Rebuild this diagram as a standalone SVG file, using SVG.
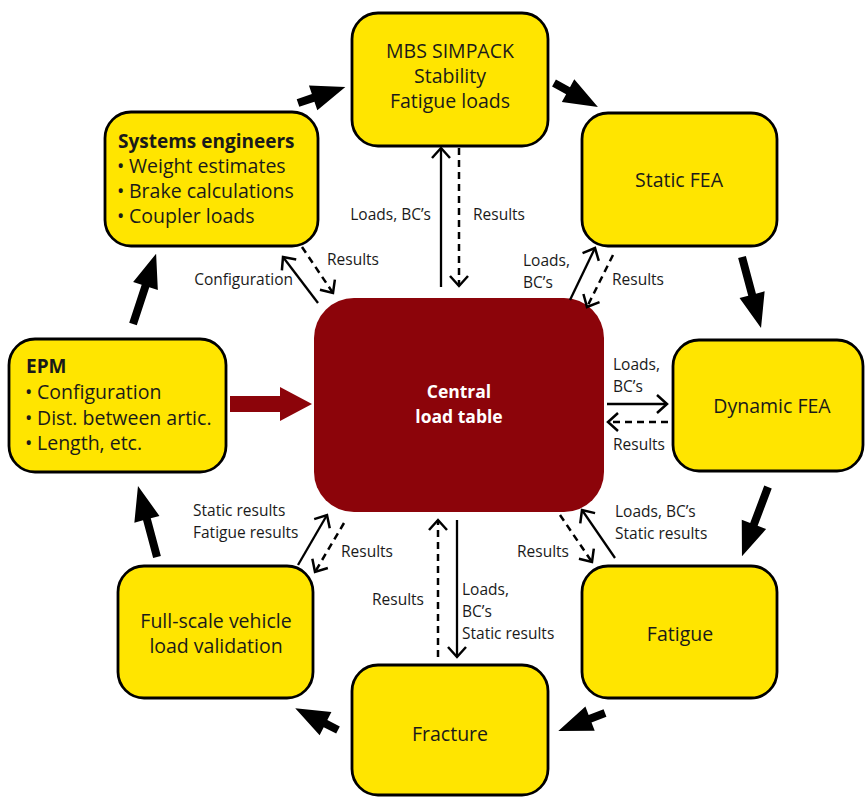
<svg xmlns="http://www.w3.org/2000/svg" width="865" height="797" viewBox="0 0 865 797">
<style>
.node{fill:#FFE500;stroke:#000;stroke-width:2.8}
.t{font-family:"Open Sans","Liberation Sans",sans-serif;font-size:19.5px;fill:#1a1a1a}
.tc{text-anchor:middle}
.b{font-weight:bold}
.lbl{font-family:"Open Sans","Liberation Sans",sans-serif;font-size:15.5px;fill:#1a1a1a}
.ln{fill:none;stroke:#000;stroke-width:2.3;marker-end:url(#chev)}
.dash{stroke-dasharray:7 5;stroke-width:2.5}
.blk{fill:#000}
.ct{font-family:"Open Sans","Liberation Sans",sans-serif;font-size:17.5px;font-weight:bold;fill:#fff;text-anchor:middle}
</style>
<defs>
<marker id="chev" markerUnits="userSpaceOnUse" markerWidth="30" markerHeight="30" viewBox="-15 -15 30 30" refX="0" refY="0" orient="auto" overflow="visible">
<path d="M-10,-9 L0,0 L-10,9" fill="none" stroke="#000" stroke-width="2.5" stroke-dasharray="none"/>
</marker>
</defs>
<rect width="865" height="797" fill="#fff"/>

<g id="central">
<rect x="314" y="298" width="290" height="214" rx="40" fill="#8C040A"/>
<text class="ct" x="459" y="398">Central</text>
<text class="ct" x="459" y="423">load table</text>
</g>

<g id="systems">
<rect class="node" x="105" y="112" width="213" height="134" rx="26"/>
<text class="t b" x="118" y="148" style="font-size:19px">Systems engineers</text>
<text class="t" x="117" y="173">•</text><text class="t" x="129" y="173">Weight estimates</text>
<text class="t" x="117" y="198">•</text><text class="t" x="129" y="198">Brake calculations</text>
<text class="t" x="117" y="223">•</text><text class="t" x="129" y="223">Coupler loads</text>
</g>

<g id="mbs">
<rect class="node" x="352" y="13" width="196" height="133" rx="26"/>
<text class="t tc" x="450" y="58">MBS SIMPACK</text>
<text class="t tc" x="450" y="83">Stability</text>
<text class="t tc" x="450" y="108">Fatigue loads</text>
</g>

<g id="static">
<rect class="node" x="582" y="113" width="195" height="133" rx="26"/>
<text class="t tc" x="679" y="187">Static FEA</text>
</g>

<g id="dynamic">
<rect class="node" x="673" y="340" width="190" height="131" rx="26"/>
<text class="t tc" x="772" y="413">Dynamic FEA</text>
</g>

<g id="fatigue">
<rect class="node" x="582" y="566" width="195" height="132" rx="26"/>
<text class="t tc" x="680" y="641">Fatigue</text>
</g>

<g id="fracture">
<rect class="node" x="352" y="665" width="196" height="130" rx="26"/>
<text class="t tc" x="450" y="741">Fracture</text>
</g>

<g id="fullscale">
<rect class="node" x="118" y="566" width="195" height="132" rx="26"/>
<text class="t tc" x="216" y="628">Full-scale vehicle</text>
<text class="t tc" x="216" y="653">load validation</text>
</g>

<g id="epm">
<rect class="node" x="9" y="339" width="217" height="133" rx="26"/>
<text class="t b" x="26" y="373" style="font-size:19px">EPM</text>
<text class="t" x="25" y="399">•</text><text class="t" x="37" y="399">Configuration</text>
<text class="t" x="25" y="425">•</text><text class="t" x="37" y="425">Dist. between artic.</text>
<text class="t" x="25" y="450">•</text><text class="t" x="37" y="450">Length, etc.</text>
</g>

<g id="connectors">
<path class="blk" transform="translate(298,103) rotate(-18.8)" d="M0,-4 H16 V-13 L50,0 L16,13 V4 H0Z"/>
<path class="blk" transform="translate(554,83) rotate(28.6)" d="M0,-4 H16 V-13 L50,0 L16,13 V4 H0Z"/>
<path class="blk" transform="translate(742,257) rotate(75)" d="M0,-4 H39 V-13 L73.5,0 L39,13 V4 H0Z"/>
<path class="blk" transform="translate(768,487) rotate(110.6)" d="M0,-4 H40 V-13 L74,0 L40,13 V4 H0Z"/>
<path class="blk" transform="translate(605,713) rotate(159)" d="M0,-4 H16 V-13 L50,0 L16,13 V4 H0Z"/>
<path class="blk" transform="translate(338,730) rotate(207)" d="M0,-4 H14 V-13 L48,0 L14,13 V4 H0Z"/>
<path class="blk" transform="translate(157,557) rotate(-105)" d="M0,-4 H39 V-13 L73.5,0 L39,13 V4 H0Z"/>
<path class="blk" transform="translate(133,324) rotate(-71.8)" d="M0,-4 H40 V-13 L74,0 L40,13 V4 H0Z"/>
<path fill="#8C040A" d="M230,396 H280 V387 L312,404 L280,421 V412 H230Z"/>

<line class="ln" x1="441" y1="287" x2="441" y2="148"/>
<line class="ln dash" x1="459" y1="148" x2="459" y2="286"/>
<text class="lbl" x="431" y="220" text-anchor="end">Loads, BC’s</text>
<text class="lbl" x="473" y="220">Results</text>

<line class="ln" x1="318" y1="303" x2="283" y2="257"/>
<line class="ln dash" x1="302" y1="247" x2="333" y2="293"/>
<text class="lbl" x="293" y="285" text-anchor="end">Configuration</text>
<text class="lbl" x="327" y="265">Results</text>

<line class="ln" x1="570" y1="300" x2="595" y2="248"/>
<line class="ln dash" x1="613" y1="255" x2="587" y2="307"/>
<text class="lbl" x="523" y="266">Loads,</text>
<text class="lbl" x="523" y="288">BC’s</text>
<text class="lbl" x="612" y="285">Results</text>

<line class="ln" x1="607" y1="404" x2="667" y2="404"/>
<line class="ln dash" x1="668" y1="422" x2="608" y2="422"/>
<text class="lbl" x="613" y="370">Loads,</text>
<text class="lbl" x="613" y="392">BC’s</text>
<text class="lbl" x="613" y="450">Results</text>

<line class="ln dash" x1="560" y1="515" x2="592" y2="562"/>
<line class="ln" x1="615" y1="558" x2="582" y2="510"/>
<text class="lbl" x="615" y="517">Loads, BC’s</text>
<text class="lbl" x="615" y="539">Static results</text>
<text class="lbl" x="517" y="557">Results</text>

<line class="ln dash" x1="438" y1="657" x2="438" y2="520"/>
<line class="ln" x1="457" y1="520" x2="457" y2="657"/>
<text class="lbl" x="372" y="605">Results</text>
<text class="lbl" x="462" y="595">Loads,</text>
<text class="lbl" x="462" y="617">BC’s</text>
<text class="lbl" x="462" y="639">Static results</text>

<line class="ln" x1="298" y1="565" x2="327" y2="515"/>
<line class="ln dash" x1="344" y1="523" x2="315" y2="572"/>
<text class="lbl" x="193" y="516">Static results</text>
<text class="lbl" x="193" y="538">Fatigue results</text>
<text class="lbl" x="341" y="557">Results</text>
</g>
</svg>
